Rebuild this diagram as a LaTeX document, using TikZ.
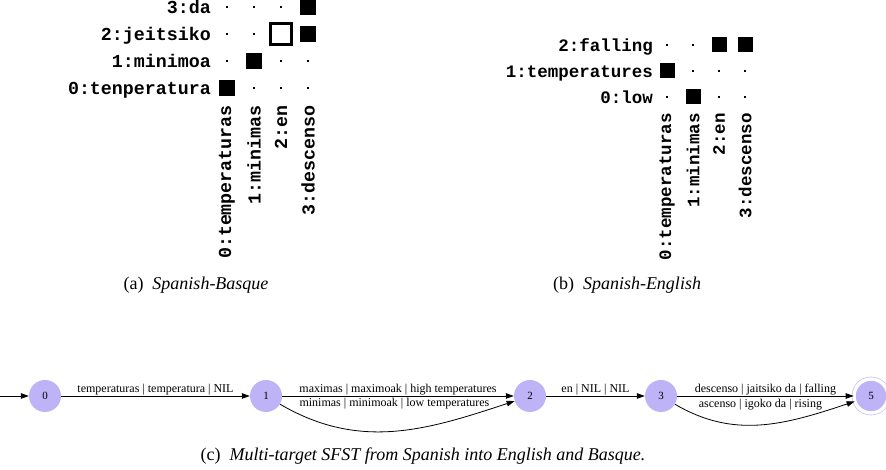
\documentclass[tikz,border=0pt]{standalone}
\usepackage{fontspec}
\setmainfont{Liberation Serif}
\setmonofont{Liberation Mono}
\usetikzlibrary{arrows.meta,positioning}
\definecolor{lilac}{HTML}{BDB3F6}
\tikzset{
word/.style={font=\ttfamily\bfseries\fontsize{18.3}{19}\selectfont,inner sep=0pt},
small word/.style={font=\ttfamily\bfseries\fontsize{17.5}{18}\selectfont},
rowword/.style={word,anchor=base east},
colword/.style={word,rotate=90,anchor=east},
cell/.style={fill=black,inner sep=0pt,minimum size=16pt},
hollow/.style={draw=black,line width=2.2pt,fill=white,inner sep=0pt,minimum size=21pt},
dot/.style={fill=black,inner sep=0pt,minimum size=2.6pt},
state/.style={circle,fill=lilac,inner sep=0pt,minimum size=32pt,font=\fontsize{11}{12}\selectfont},
final/.style={state,draw=lilac,line width=.6pt,double=white,double distance=3.4pt,minimum size=34pt},
trans/.style={-{Triangle[length=8pt,width=5.5pt]},line width=.8pt},
arc label/.style={font=\fontsize{12}{13}\selectfont,inner sep=0pt},
subcap/.style={font=\fontsize{18}{20}\selectfont}}
\begin{document}
\begin{tikzpicture}[x=1pt,y=1pt]
\useasboundingbox (0,0) rectangle (886,470);
% (a) Spanish-Basque alignment
\foreach \r/\w in {0/tenperatura,1/minimoa,2/jeitsiko,3/da}
  \node[rowword] (a-row\r) at (211,{375+27*\r}) {\r:\w};
\foreach \c/\w in {0/temperaturas,1/minimas,2/en,3/descenso}
  \node[colword] (a-col\c) at ({227+27*\c},365) {\c:\w};
\foreach \r/\c in {0/1,0/2,0/3,1/0,1/2,1/3,2/0,2/1,3/0,3/1,3/2}
  \node[dot] (a-\r\c) at ({227+27*\c},{382+27*\r}) {};
\foreach \r/\c in {0/0,1/1,2/3,3/3}
  \node[cell] (a-\r\c) at ({227+27*\c},{382+27*\r}) {};
\node[hollow] (a-22) at (281,436) {};
\node[subcap] (cap-a) at (196,185) {(a)\enspace\textit{Spanish-Basque}};
% (b) Spanish-English alignment
\foreach \r/\w in {0/low,1/temperatures,2/falling}
  \node[rowword,small word] (b-row\r) at (653,{366+26*\r}) {\r:\w};
\foreach \c/\w in {0/temperaturas,1/minimas,2/en,3/descenso}
  \node[colword,small word] (b-col\c) at ({667+26*\c},357) {\c:\w};
\foreach \r/\c in {0/0,0/2,0/3,1/1,1/2,1/3,2/0,2/1}
  \node[dot] (b-\r\c) at ({667+26*\c},{373+26*\r}) {};
\foreach \r/\c in {0/1,1/0,2/2,2/3}
  \node[cell,minimum size=15pt] (b-\r\c) at ({667+26*\c},{373+26*\r}) {};
\node[subcap] (cap-b) at (627,185) {(b)\enspace\textit{Spanish-English}};
% (c) multi-target SFST
\coordinate (start) at (0,74);
\node[state] (q0) at (45,74) {0};
\node[state] (q1) at (266,74) {1};
\node[state] (q2) at (530,74) {2};
\node[state] (q3) at (661,74) {3};
\node[final] (q5) at (871,74) {5};
\draw[trans] (start) -- (q0);
\draw[trans] (q0) -- node[arc label,above=1pt] {temperaturas | temperatura | NIL} (q1);
\draw[trans] (q1) -- node[arc label,above=1pt] {maximas | maximoak | high temperatures} (q2);
\draw[trans] (q1) .. controls (360,19) and (427,40) .. node[arc label,midway,yshift=27pt] {minimas | minimoak | low temperatures} (q2);
\draw[trans] (q2) -- node[arc label,above=1pt] {en | NIL | NIL} (q3);
\draw[trans] (q3) -- node[arc label,above=1pt] {descenso | jaitsiko da | falling} (q5);
\draw[trans] (q3) .. controls (734,31) and (784,45) .. node[arc label,midway,yshift=20.5pt] {ascenso | igoko da | rising} (q5);
\node[subcap] (cap-c) at (423,14) {(c)\enspace\textit{Multi-target SFST from Spanish into English and Basque.}};
\end{tikzpicture}
\end{document}
